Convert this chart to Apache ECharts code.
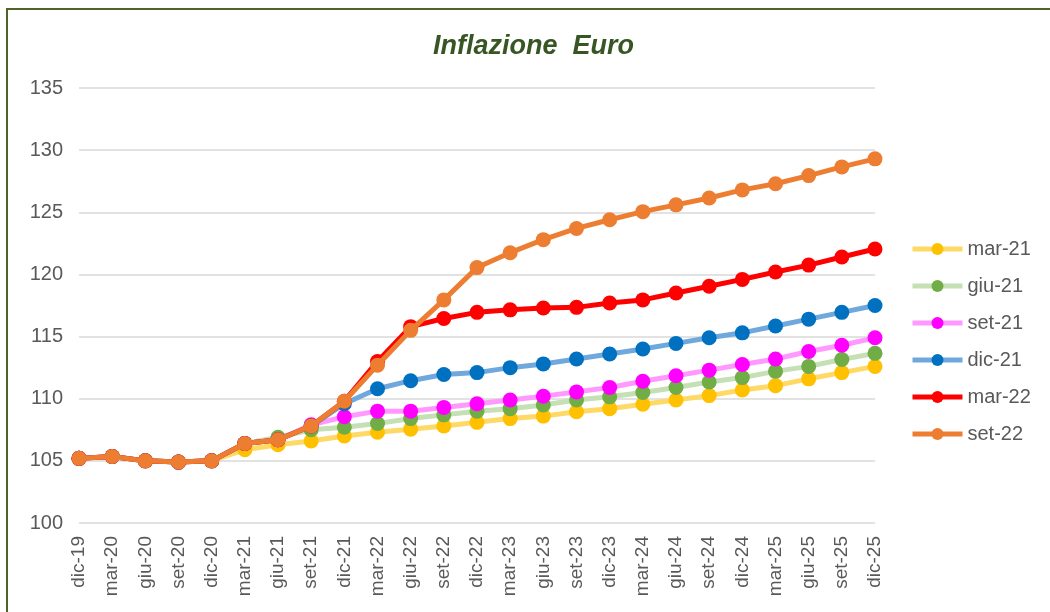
<!DOCTYPE html>
<html>
<head>
<meta charset="utf-8">
<script src="https://cdn.jsdelivr.net/npm/echarts@6/dist/echarts.min.js"></script>
<style>
html,body{margin:0;padding:0;background:#fff;}
#c{width:1050px;height:612px;position:relative;}
#b{position:absolute;left:6px;top:8px;width:1100px;height:700px;border:2px solid #4F6228;box-sizing:border-box;pointer-events:none;}
</style>
</head>
<body>
<div id="c"></div>
<div id="b"></div>
<script>
const categories = ['dic-19','mar-20','giu-20','set-20','dic-20','mar-21','giu-21','set-21','dic-21','mar-22','giu-22','set-22','dic-22','mar-23','giu-23','set-23','dic-23','mar-24','giu-24','set-24','dic-24','mar-25','giu-25','set-25','dic-25'];
const seriesNames = ['mar-21','giu-21','set-21','dic-21','mar-22','set-22'];
const mar21 = [105.2,105.35,105.0,104.9,105.0,105.9,106.3,106.6,107.0,107.3,107.55,107.8,108.1,108.4,108.6,108.95,109.2,109.55,109.9,110.25,110.7,111.05,111.6,112.1,112.6];
const giu21 = [105.2,105.35,105.0,104.9,105.0,106.4,106.9,107.5,107.7,108.0,108.4,108.7,109.0,109.2,109.5,109.9,110.15,110.5,110.9,111.35,111.7,112.2,112.6,113.15,113.65];
const set21 = [105.2,105.35,105.0,104.9,105.0,106.4,106.7,107.9,108.55,109.0,109.0,109.3,109.6,109.9,110.2,110.55,110.9,111.4,111.85,112.3,112.75,113.2,113.8,114.3,114.9];
const dic21 = [105.2,105.35,105.0,104.9,105.0,106.4,106.7,107.8,109.6,110.8,111.45,111.95,112.1,112.5,112.8,113.2,113.6,114.0,114.45,114.9,115.3,115.85,116.4,116.95,117.5];
const mar22 = [105.2,105.35,105.0,104.9,105.0,106.4,106.7,107.8,109.8,113.0,115.8,116.45,116.95,117.15,117.3,117.35,117.7,117.95,118.5,119.05,119.6,120.2,120.75,121.4,122.05];
const set22 = [105.2,105.35,105.0,104.9,105.0,106.4,106.7,107.8,109.8,112.7,115.5,117.95,120.55,121.75,122.8,123.7,124.4,125.05,125.6,126.15,126.8,127.3,127.95,128.65,129.3];
const yTicks = {min:100, max:135, interval:5};

const dataList = [mar21, giu21, set21, dic21, mar22, set22];
const lineColors = ['#FFD966','#C5E0B4','#FF99FF','#6FA8DC','#FF0000','#ED7D31'];
const markerColors = ['#FFC000','#70AD47','#FF00FF','#0070C0','#FF0000','#ED7D31'];

const chart = echarts.init(document.getElementById('c'), null, {renderer:'canvas'});
const font = '"Liberation Sans", Arial, sans-serif';
chart.setOption({
  animation:false,
  backgroundColor:'#fff',
  title:{text:'Inflazione  Euro', left:428, top:28,
    textStyle:{fontFamily:font, fontSize:27, fontWeight:'bold', fontStyle:'italic', color:'#375623'}},
  grid:{left:79, right:175, top:88, bottom:89, containLabel:false},
  legend:{orient:'vertical', left:905, top:234, itemWidth:50, itemHeight:15, itemGap:17,
    lineStyle:{width:5},
    textStyle:{fontFamily:font, fontSize:20, color:'#595959'},
    data: seriesNames},
  xAxis:{type:'category', data:categories, boundaryGap:false,
    axisLine:{show:false}, axisTick:{show:false},
    axisLabel:{rotate:90, fontFamily:font, fontSize:19, color:'#595959', margin:13, interval:0}},
  yAxis:{type:'value', min:yTicks.min, max:yTicks.max, interval:yTicks.interval,
    axisLine:{show:false}, axisTick:{show:false},
    axisLabel:{fontFamily:font, fontSize:20, color:'#595959', margin:16},
    splitLine:{lineStyle:{color:'#D9D9D9', width:1.5}}},
  series: seriesNames.map((n,i)=>({
    name:n, type:'line', data:dataList[i],
    symbol:'circle', symbolSize:15,
    lineStyle:{color:lineColors[i], width:5},
    itemStyle:{color:markerColors[i]},
    z: 2+i
  }))
});
</script>
</body>
</html>
